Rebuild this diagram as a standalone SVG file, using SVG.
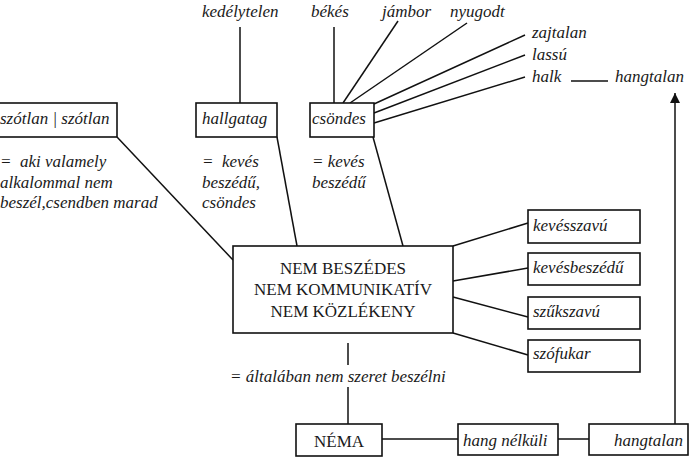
<svg xmlns="http://www.w3.org/2000/svg" width="690" height="459" viewBox="0 0 690 459">
<style>
  .box { fill: #fff; stroke: #111; stroke-width: 1.6; }
  .ln { stroke: #111; stroke-width: 1.5; fill: none; }
  text { font-family: 'Liberation Serif', 'DejaVu Serif', serif; font-size: 17px; fill: #1a1a1a; white-space: pre; }
  .it { font-style: italic; }
</style>
<defs>
  <marker id="arr" markerWidth="12" markerHeight="12" refX="10" refY="5" orient="auto" markerUnits="userSpaceOnUse">
    <path d="M0,0 L10,5 L0,10 Z" fill="#111"/>
  </marker>
</defs>
<rect width="690" height="459" fill="#fff"/>

<g id="connectors">
  <line class="ln" x1="240" y1="27" x2="240" y2="103"/>
  <line class="ln" x1="334" y1="27" x2="334" y2="103"/>
  <line class="ln" x1="398" y1="21" x2="343" y2="103"/>
  <line class="ln" x1="467" y1="23" x2="350" y2="103"/>
  <line class="ln" x1="525" y1="35" x2="374" y2="104"/>
  <line class="ln" x1="525" y1="55" x2="374" y2="113"/>
  <line class="ln" x1="525" y1="77" x2="374" y2="123"/>
  <line class="ln" x1="571" y1="81" x2="608" y2="81"/>
  <line class="ln" x1="117" y1="137" x2="233" y2="260"/>
  <line class="ln" x1="277" y1="137" x2="297" y2="246"/>
  <line class="ln" x1="373" y1="137" x2="403" y2="246"/>
  <line class="ln" x1="453" y1="246" x2="528" y2="223"/>
  <line class="ln" x1="453" y1="281" x2="528" y2="268"/>
  <line class="ln" x1="453" y1="297" x2="528" y2="317"/>
  <line class="ln" x1="453" y1="333" x2="528" y2="355"/>
  <line class="ln" x1="348" y1="343" x2="348" y2="365"/>
  <line class="ln" x1="348" y1="387" x2="348" y2="424"/>
  <line class="ln" x1="382" y1="439" x2="458" y2="439"/>
  <line class="ln" x1="558" y1="439" x2="589" y2="439"/>
  <line class="ln" x1="675" y1="424" x2="675" y2="93" marker-end="url(#arr)"/>
</g>

<g id="top-words">
  <text class="it" x="202" y="17">kedélytelen</text>
  <text class="it" x="311" y="17">békés</text>
  <text class="it" x="382" y="17">jámbor</text>
  <text class="it" x="450" y="17">nyugodt</text>
  <text class="it" x="532" y="38">zajtalan</text>
  <text class="it" x="532" y="60">lassú</text>
  <text class="it" x="532" y="82">halk</text>
  <text class="it" x="615" y="82">hangtalan</text>
</g>

<g id="szotlan">
  <rect class="box" x="-5" y="103" width="122" height="34"/>
  <text class="it" x="0" y="124">szótlan | szótlan</text>
  <text class="it" x="0" y="167">=  aki valamely</text>
  <text class="it" x="0" y="188">alkalommal nem</text>
  <text class="it" x="0" y="208">beszél,csendben marad</text>
</g>

<g id="hallgatag">
  <rect class="box" x="196" y="103" width="81" height="34"/>
  <text class="it" x="202" y="124">hallgatag</text>
  <text class="it" x="202" y="167">=  kevés</text>
  <text class="it" x="202" y="188">beszédű,</text>
  <text class="it" x="202" y="208">csöndes</text>
</g>

<g id="csondes">
  <rect class="box" x="310" y="103" width="64" height="34"/>
  <text class="it" x="312" y="124">csöndes</text>
  <text class="it" x="312" y="167">= kevés</text>
  <text class="it" x="312" y="188">beszédű</text>
</g>

<g id="nem-beszedes">
  <rect class="box" x="233" y="246" width="220" height="87"/>
  <text x="343" y="274" text-anchor="middle">NEM BESZÉDES</text>
  <text x="343" y="295" text-anchor="middle">NEM KOMMUNIKATÍV</text>
  <text x="343" y="317" text-anchor="middle">NEM KÖZLÉKENY</text>
</g>

<g id="kevesszavu">
  <rect class="box" x="528" y="210" width="112" height="33"/>
  <text class="it" x="533" y="231">kevésszavú</text>
</g>
<g id="kevesbeszedu">
  <rect class="box" x="528" y="253" width="112" height="32"/>
  <text class="it" x="533" y="273">kevésbeszédű</text>
</g>
<g id="szukszavu">
  <rect class="box" x="528" y="297" width="112" height="32"/>
  <text class="it" x="533" y="317">szűkszavú</text>
</g>
<g id="szofukar">
  <rect class="box" x="528" y="340" width="112" height="32"/>
  <text class="it" x="533" y="359">szófukar</text>
</g>

<g id="definition">
  <text class="it" x="230" y="382">= általában nem szeret beszélni</text>
</g>

<g id="nema">
  <rect class="box" x="296" y="424" width="86" height="32"/>
  <text x="339" y="447" text-anchor="middle">NÉMA</text>
</g>
<g id="hang-nelkuli">
  <rect class="box" x="458" y="424" width="100" height="31"/>
  <text class="it" x="463" y="446">hang nélküli</text>
</g>
<g id="hangtalan-box">
  <rect class="box" x="589" y="424" width="99" height="31"/>
  <text class="it" x="614" y="446">hangtalan</text>
</g>
</svg>
